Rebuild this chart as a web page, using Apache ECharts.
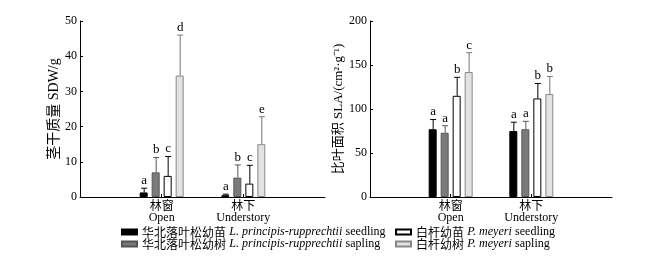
<!DOCTYPE html>
<html>
<head>
<meta charset="utf-8">
<script src="https://cdn.jsdelivr.net/npm/echarts@6/dist/echarts.min.js"></script>
<style>
  html, body { margin: 0; padding: 0; background: #fff; }
  #main { width: 664px; height: 265px; }
</style>
</head>
<body>
<div id="main"></div>
<script>
// 林窗 / 林下，两端留空类目用于定位
var categories = ['', '林窗\nOpen', '林下\nUnderstory', ''];
var seriesNames = [
  '华北落叶松幼苗 L. principis-rupprechtii seedling',
  '华北落叶松幼树 L. principis-rupprechtii sapling',
  '白杆幼苗 P. meyeri seedling',
  '白杆幼树 P. meyeri sapling'
];
// 茎干质量 SDW/g  [Open, Understory]
var sdwMean = [[1.3, 0.5], [7, 5.5], [6, 3.8], [34.5, 15]];
var sdwUpper = [[2.5, 0.8], [11.2, 9.1], [11.5, 9], [46, 22.8]];
var sdwLetters = [['a', 'a'], ['b', 'b'], ['c', 'c'], ['d', 'e']];
// 比叶面积 SLA
var slaMean = [[77, 75], [73, 77], [115, 112], [142, 117]];
var slaUpper = [[88, 85], [81, 86], [136, 129], [164, 137]];
var slaLetters = [['a', 'a'], ['a', 'a'], ['b', 'b'], ['c', 'b']];
var sdwTicks = [0, 50, 10];
var slaTicks = [0, 200, 50];

var barStyles = [
  { color: '#000', borderColor: '#000', borderWidth: 1 },
  { color: '#7a7a7a', borderColor: '#555', borderWidth: 1 },
  { color: '#fff', borderColor: '#000', borderWidth: 1 },
  { color: '#e2e2e2', borderColor: '#888', borderWidth: 1 }
];
var serif = '"Liberation Serif", "Noto Sans CJK SC", serif';
var BAR_W = 8, STEP = 12;

function barData(arr) { return [null, arr[0], arr[1], null]; }

function errSeries(idx, upper, mean, letters) {
  var data = [];
  for (var s = 0; s < 4; s++) {
    for (var c = 0; c < 2; c++) data.push([c + 1, s, mean[s][c], upper[s][c]]);
  }
  return {
    type: 'custom', xAxisIndex: idx, yAxisIndex: idx, z: 5, silent: true,
    encode: { x: 0, y: 3 },
    data: data,
    renderItem: function (params, api) {
      var cat = api.value(0), s = api.value(1);
      var base = api.coord([cat, api.value(2)]);
      var top = api.coord([cat, api.value(3)]);
      var x = base[0] + (s - 1.5) * STEP + 0.5;
      var c = cat - 1;
      var col = s === 3 ? '#777' : (s === 1 ? '#555' : '#000');
      return { type: 'group', children: [
        { type: 'line', shape: { x1: x, y1: base[1], x2: x, y2: top[1] }, style: { stroke: col, lineWidth: 1 } },
        { type: 'line', shape: { x1: x - 3, y1: top[1], x2: x + 3, y2: top[1] }, style: { stroke: col, lineWidth: 1 } },
        { type: 'text', x: x, y: top[1] - 1, style: { text: letters[s][c], fill: '#000', font: '13px ' + serif, align: 'center', verticalAlign: 'bottom' } }
      ] };
    }
  };
}

function xAxis(idx) {
  return {
    type: 'category', gridIndex: idx, data: categories, boundaryGap: false,
    axisLine: { lineStyle: { color: '#000', width: 1 } },
    axisTick: { show: true, inside: true, length: 3, lineStyle: { color: '#000' },
      interval: function (i) { return i === 1 || i === 2; } },
    axisLabel: { color: '#000', fontFamily: serif, fontSize: 12, lineHeight: 11, margin: 4, interval: 0 },
    splitLine: { show: false }
  };
}
function yAxis(idx, ticks, name, gap, nameSize) {
  return {
    type: 'value', gridIndex: idx, min: ticks[0], max: ticks[1], interval: ticks[2],
    name: name, nameLocation: 'middle', nameGap: gap,
    nameTextStyle: { color: '#000', fontFamily: serif, fontSize: nameSize },
    axisLine: { show: true, lineStyle: { color: '#000', width: 1 } },
    axisTick: { show: true, inside: true, length: 3, lineStyle: { color: '#000' } },
    axisLabel: { color: '#000', fontFamily: serif, fontSize: 12, margin: 3 },
    splitLine: { show: false }
  };
}

var series = [];
[[sdwMean, 0], [slaMean, 1]].forEach(function (p) {
  for (var s = 0; s < 4; s++) {
    series.push({
      type: 'bar', name: seriesNames[s], xAxisIndex: p[1], yAxisIndex: p[1],
      data: barData(p[0][s]), barWidth: BAR_W, barGap: '50%',
      itemStyle: barStyles[s], silent: true
    });
  }
});
series.push(errSeries(0, sdwUpper, sdwMean, sdwLetters));
series.push(errSeries(1, slaUpper, slaMean, slaLetters));

var legendRich = {
  zh: { fontFamily: '"Noto Sans CJK SC", sans-serif', fontSize: 12, color: '#000' },
  it: { fontFamily: serif, fontStyle: 'italic', fontSize: 12, color: '#000' },
  n: { fontFamily: serif, fontSize: 12, color: '#000' }
};
function legendFmt(name) {
  var i = name.indexOf(' ');
  var zh = name.slice(0, i), rest = name.slice(i + 1);
  var j = rest.lastIndexOf(' ');
  return '{zh|' + zh + '} {it|' + rest.slice(0, j) + '} {n|' + rest.slice(j + 1) + '}';
}
function legend(left, names) {
  return {
    left: left, top: 221, orient: 'vertical', itemGap: 0,
    itemWidth: 15, itemHeight: 5, icon: 'rect', selectedMode: false,
    data: names, formatter: legendFmt,
    textStyle: { rich: legendRich }
  };
}

var chart = echarts.init(document.getElementById('main'));
chart.setOption({
  backgroundColor: '#fff',
  animation: false,
  grid: [
    { left: 80, right: 339, top: 21, bottom: 68 },
    { left: 370, right: 52, top: 21, bottom: 68 }
  ],
  xAxis: [xAxis(0), xAxis(1)],
  yAxis: [
    yAxis(0, sdwTicks, '茎干质量 SDW/g', 19, 14),
    yAxis(1, slaTicks, '比叶面积 SLA/(cm²·g⁻¹)', 24, 13)
  ],
  legend: [legend(116, seriesNames.slice(0, 2)), legend(390, seriesNames.slice(2))],
  series: series
});
</script>
</body>
</html>
